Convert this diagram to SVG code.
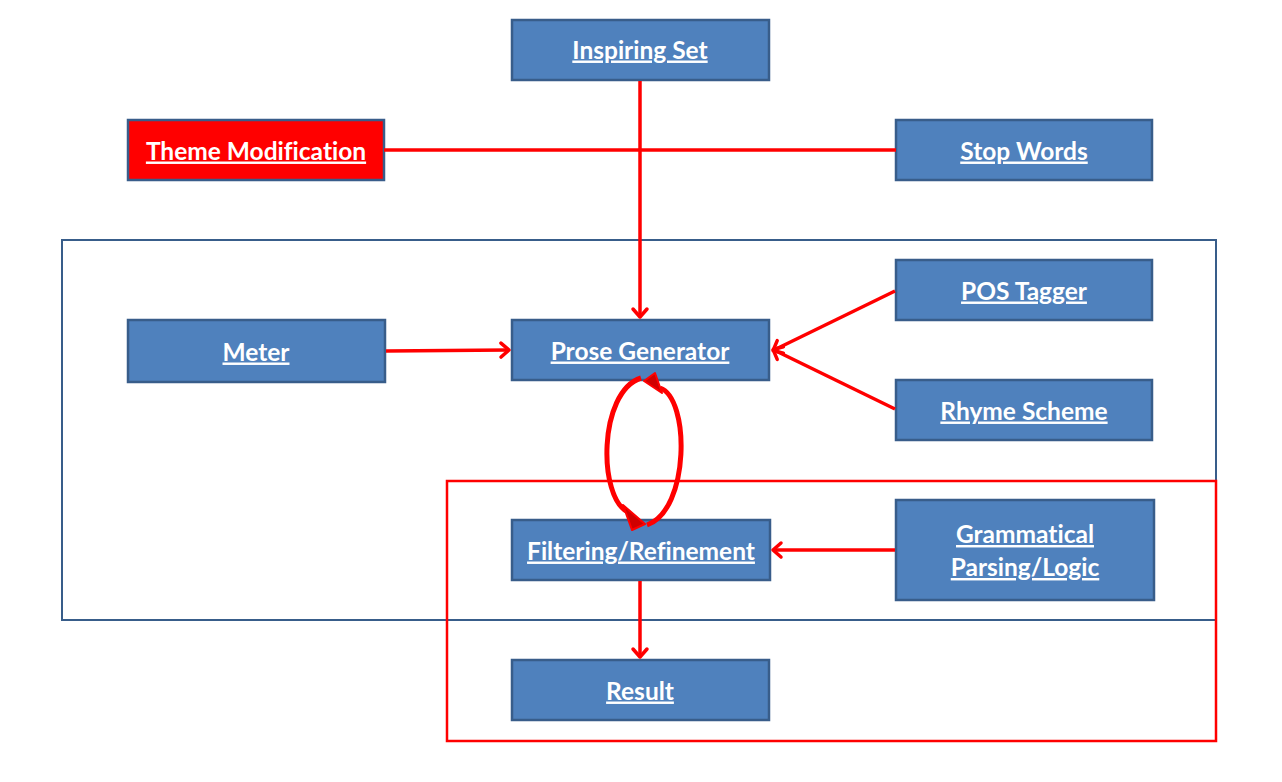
<svg xmlns="http://www.w3.org/2000/svg" width="1282" height="782" viewBox="0 0 1282 782">
<style>
.n{fill:#4F81BD;stroke:#385D8A;stroke-width:2.5}
.t{font-family:Lato,"Liberation Sans",sans-serif;font-weight:bold;font-size:24.5px;fill:#fff;text-anchor:middle;text-decoration:underline;font-variant-ligatures:none}
.c{stroke:#FF0000;stroke-width:3.5;fill:none}
.h{fill:#D00000;stroke:#FF0000;stroke-width:2;stroke-linejoin:round}
</style>
<defs>
<marker id="a" markerWidth="10" markerHeight="10" refX="7" refY="5" orient="auto" markerUnits="userSpaceOnUse" viewBox="0 0 10 10" overflow="visible">
<path d="M0,-2 L8,5 L0,12" fill="none" stroke="#FF0000" stroke-width="3.5" stroke-linecap="round" stroke-linejoin="round"/>
</marker>
</defs>
<rect x="62" y="240" width="1154" height="380" fill="none" stroke="#385D8A" stroke-width="2"/>
<rect x="447" y="481" width="769" height="260" fill="none" stroke="#FF0000" stroke-width="2.5"/>
<g id="inspiring"><rect class="n" x="512" y="20" width="257" height="60"/><text class="t" x="640" y="58.5">Inspiring Set</text></g>
<g id="theme"><rect class="n" x="128" y="120" width="256" height="60" style="fill:#FF0000"/><text class="t" x="256" y="159.5">Theme Modification</text></g>
<g id="stopwords"><rect class="n" x="896" y="120" width="256" height="60"/><text class="t" x="1024" y="159.5">Stop Words</text></g>
<g id="meter"><rect class="n" x="128" y="320" width="257" height="62"/><text class="t" x="256" y="360.5">Meter</text></g>
<g id="prose"><rect class="n" x="512" y="320" width="257" height="60"/><text class="t" x="640" y="359.5">Prose Generator</text></g>
<g id="pos"><rect class="n" x="896" y="260" width="256" height="60"/><text class="t" x="1024" y="299.5">POS Tagger</text></g>
<g id="rhyme"><rect class="n" x="896" y="380" width="256" height="60"/><text class="t" x="1024" y="419.5">Rhyme Scheme</text></g>
<g id="filter"><rect class="n" x="512" y="520" width="258" height="60"/><text class="t" x="641" y="559.5">Filtering/Refinement</text></g>
<g id="grammar"><rect class="n" x="896" y="500" width="258" height="100"/><text class="t" x="1025" y="543">Grammatical</text><text class="t" x="1025" y="576">Parsing/Logic</text></g>
<g id="result"><rect class="n" x="512" y="660" width="257" height="60"/><text class="t" x="640" y="699.5">Result</text></g>
<g id="connectors">
<line class="c" x1="384" y1="150" x2="896" y2="150"/>
<line class="c" x1="640" y1="81" x2="640" y2="316" marker-end="url(#a)"/>
<line class="c" x1="386" y1="351" x2="508" y2="350" marker-end="url(#a)"/>
<line class="c" x1="895" y1="291" x2="774" y2="350" marker-end="url(#a)"/>
<line class="c" x1="895" y1="409" x2="774" y2="350" marker-end="url(#a)"/>
<line class="c" x1="895" y1="550" x2="774" y2="550" marker-end="url(#a)"/>
<line class="c" x1="640" y1="581" x2="640" y2="656" marker-end="url(#a)"/>
<path d="M641,378 C598,392 598,498 628,512" fill="none" stroke="#FF0000" stroke-width="5"/>
<path class="h" d="M623,505 L645,524 L632,530 Z"/>
<path d="M647,525 C690,510 690,398 660,388" fill="none" stroke="#FF0000" stroke-width="5"/>
<path class="h" d="M644,381 L655,373 L662,393 Z"/>
</g>
</svg>
